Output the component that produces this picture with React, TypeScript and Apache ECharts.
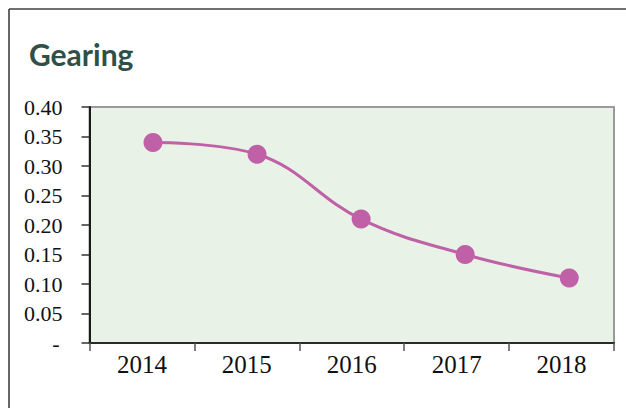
import React, { useEffect, useRef } from "react";
import * as echarts from "echarts";

const categories = ["2014", "2015", "2016", "2017", "2018"];
const gearing = [0.34, 0.32, 0.21, 0.15, 0.11];
const yTicks = { min: 0, max: 0.4, interval: 0.05 };
const title = "Gearing";

export default function App() {
  const ref = useRef<HTMLDivElement>(null);
  useEffect(() => {
    if (!ref.current) return;
    const chart = echarts.init(ref.current, undefined, { renderer: "svg" });
    const lineData = gearing.map((v, i) => [i, v]);
    chart.setOption({
      animation: false,
      backgroundColor: "#ffffff",
      title: {
        text: title,
        left: 24,
        top: 34,
        textStyle: {
          fontFamily: "Lato",
          fontWeight: "bold",
          fontSize: 30,
          color: "#2f5048",
        },
      },
      graphic: [
        { type: "line", shape: { x1: 9, y1: 9, x2: 640, y2: 9 }, style: { stroke: "#404040", lineWidth: 1.6 } },
        { type: "line", shape: { x1: 9, y1: 9, x2: 9, y2: 420 }, style: { stroke: "#404040", lineWidth: 1.6 } },
      ],
      grid: {
        left: 89.5,
        right: 12,
        top: 107,
        bottom: 65,
        show: true,
        backgroundColor: "#e8f2e6",
        borderColor: "#9a9a9a",
        borderWidth: 2,
      },
      xAxis: [
        {
          type: "category",
          data: categories,
          boundaryGap: true,
          axisLine: { onZero: false, lineStyle: { color: "#2a2a2a", width: 2 } },
          axisTick: { show: true, length: 8, lineStyle: { color: "#555", width: 1.5 } },
          axisLabel: {
            margin: 9,
            fontFamily: "Liberation Serif",
            fontSize: 25,
            color: "#111",
          },
        },
        {
          type: "value",
          min: -0.61,
          max: 4.43,
          show: false,
        },
      ],
      yAxis: {
        type: "value",
        min: yTicks.min,
        max: yTicks.max,
        interval: yTicks.interval,
        splitLine: { show: false },
        axisLine: { show: true, onZero: false, lineStyle: { color: "#1a1a1a", width: 2 } },
        axisTick: { show: true, length: 8, lineStyle: { color: "#333", width: 1.5 } },
        axisLabel: {
          margin: 27,
          fontFamily: "Liberation Serif",
          fontSize: 22,
          color: "#111",
          formatter: (v: number) => (Math.abs(v) < 1e-9 ? "{d|-}" : v.toFixed(2)),
          rich: {
            d: { fontFamily: "Liberation Serif", fontSize: 22, color: "#111", padding: [0, 3, 0, 0] },
          },
        },
      },
      series: [
        {
          type: "line",
          xAxisIndex: 1,
          data: lineData,
          smooth: 0.4,
          symbol: "circle",
          symbolSize: 19,
          lineStyle: { color: "#c060a6", width: 3 },
          itemStyle: { color: "#c060a6" },
        },
      ],
    });
    return () => chart.dispose();
  }, []);
  return (
    <div
      ref={ref}
      style={{ position: "absolute", left: 0, top: 0, width: 626, height: 408 }}
    />
  );
}
